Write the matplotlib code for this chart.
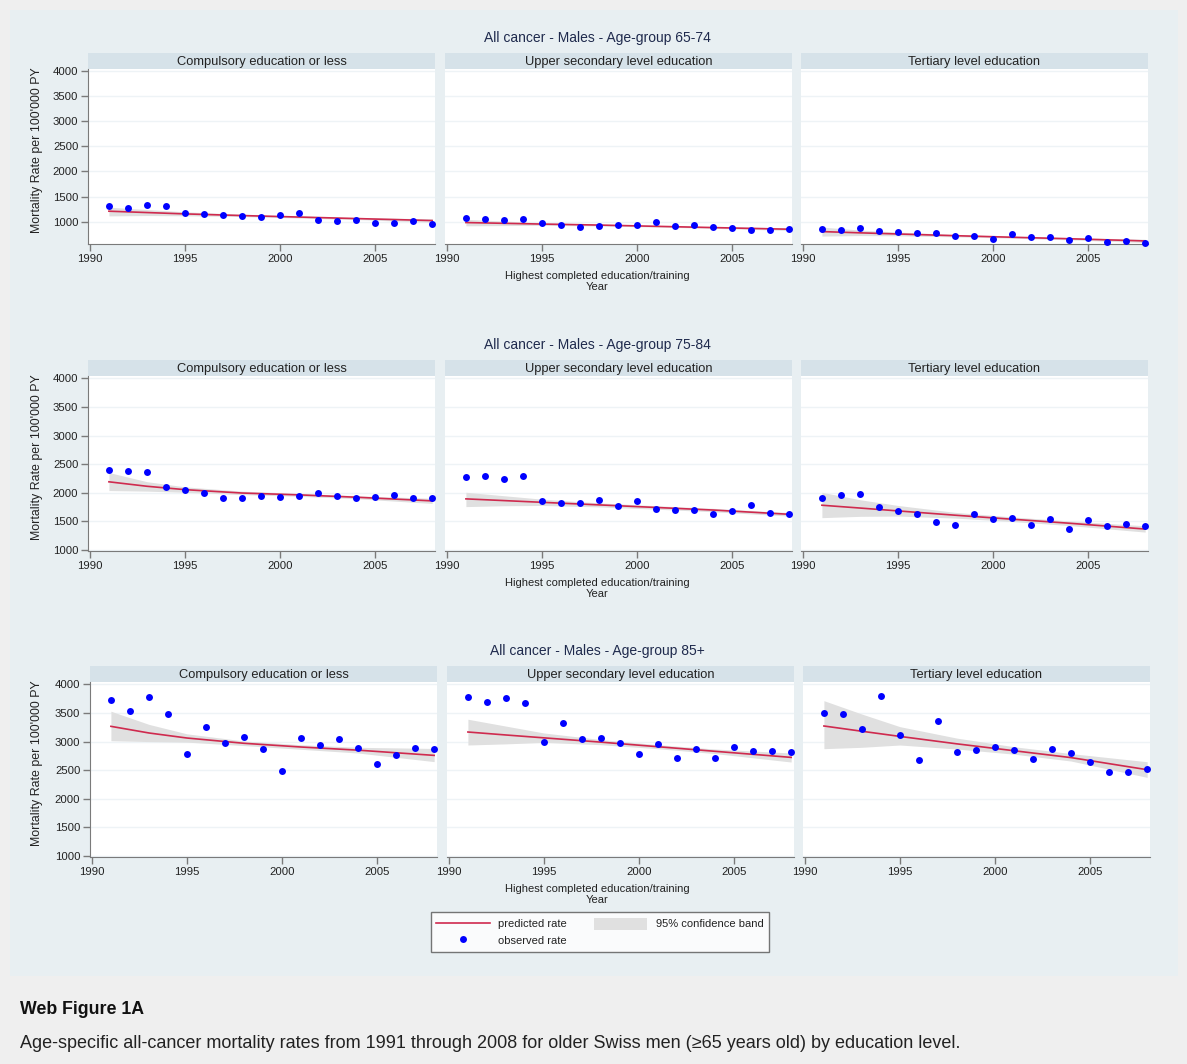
import matplotlib
matplotlib.use("Agg")
import matplotlib.pyplot as plt
from matplotlib.lines import Line2D
from matplotlib.patches import Patch, Rectangle

plt.rcParams['font.family'] = ['Liberation Sans', 'DejaVu Sans']

years = list(range(1991, 2009))
fit_years = [1991, 1993, 1995, 1998, 2001, 2004, 2008]

age_groups = ["65-74", "75-84", "85+"]
education = ["Compulsory education or less",
             "Upper secondary level education",
             "Tertiary level education"]

# observed rates per 100'000 PY, 1991..2008
obs_65_comp = [1313, 1280, 1340, 1313, 1173, 1147, 1127, 1120, 1087, 1127, 1180, 1040, 1020, 1040, 980, 973, 1013, 947]
obs_65_upper = [1067, 1047, 1027, 1047, 980, 940, 893, 920, 933, 927, 1000, 920, 927, 900, 880, 840, 840, 847]
obs_65_tert = [853, 840, 880, 813, 800, 767, 780, 707, 707, 647, 747, 687, 693, 640, 673, 587, 620, 580]

obs_75_comp = [2404, 2386, 2357, 2105, 2053, 2000, 1918, 1906, 1947, 1936, 1953, 2006, 1942, 1912, 1936, 1959, 1906, 1912]
obs_75_upper = [2275, 2292, 2234, 2287, 1854, 1819, 1819, 1871, 1778, 1860, 1725, 1702, 1696, 1632, 1684, 1790, 1643, 1626]
obs_75_tert = [1918, 1959, 1982, 1754, 1684, 1632, 1485, 1444, 1632, 1544, 1556, 1439, 1550, 1374, 1520, 1415, 1450, 1421]

obs_85_comp = [3720, 3540, 3773, 3487, 2788, 3260, 2975, 3074, 2876, 2491, 3056, 2940, 3039, 2893, 2608, 2771, 2893, 2876]
obs_85_upper = [3784, 3685, 3767, 3668, 2998, 3330, 3039, 3062, 2969, 2788, 2951, 2707, 2876, 2718, 2905, 2835, 2835, 2812]
obs_85_tert = [3505, 3481, 3219, 3802, 3109, 2672, 3359, 2817, 2852, 2911, 2858, 2689, 2864, 2794, 2637, 2468, 2468, 2526]

# predicted rate and 95% band at fit_years
pred_65_comp = [1207, 1180, 1153, 1120, 1090, 1060, 1020]
lo_65_comp = [1113, 1120, 1115, 1100, 1070, 1040, 985]
hi_65_comp = [1287, 1240, 1195, 1145, 1110, 1080, 1055]
pred_65_upper = [980, 965, 950, 930, 905, 880, 847]
lo_65_upper = [915, 920, 925, 912, 890, 865, 822]
hi_65_upper = [1045, 1010, 978, 948, 920, 897, 875]
pred_65_tert = [800, 775, 752, 718, 687, 657, 613]
lo_65_tert = [710, 720, 715, 695, 668, 635, 580]
hi_65_tert = [890, 830, 790, 742, 707, 680, 648]

pred_75_comp = [2193, 2115, 2056, 1997, 1965, 1924, 1860]
lo_75_comp = [2040, 2030, 2010, 1970, 1940, 1898, 1815]
hi_75_comp = [2355, 2195, 2105, 2030, 1990, 1950, 1905]
pred_75_upper = [1895, 1865, 1835, 1790, 1745, 1700, 1626]
lo_75_upper = [1760, 1775, 1780, 1755, 1715, 1670, 1595]
hi_75_upper = [2010, 1950, 1890, 1825, 1775, 1730, 1655]
pred_75_tert = [1784, 1735, 1685, 1610, 1540, 1470, 1368]
lo_75_tert = [1567, 1590, 1595, 1560, 1500, 1430, 1315]
hi_75_tert = [2010, 1880, 1780, 1660, 1580, 1510, 1425]

pred_85_comp = [3266, 3150, 3062, 2970, 2905, 2850, 2759]
lo_85_comp = [3015, 3000, 2990, 2930, 2865, 2800, 2650]
hi_85_comp = [3530, 3300, 3135, 3010, 2945, 2900, 2880]
pred_85_upper = [3167, 3115, 3065, 2990, 2910, 2830, 2724]
lo_85_upper = [2940, 2960, 2985, 2945, 2875, 2790, 2643]
hi_85_upper = [3390, 3270, 3150, 3035, 2945, 2870, 2800]
pred_85_tert = [3272, 3180, 3090, 2960, 2840, 2720, 2509]
lo_85_tert = [2876, 2900, 2940, 2870, 2780, 2660, 2375]
hi_85_tert = [3714, 3480, 3260, 3060, 2910, 2790, 2648]

observed = [[obs_65_comp, obs_65_upper, obs_65_tert],
            [obs_75_comp, obs_75_upper, obs_75_tert],
            [obs_85_comp, obs_85_upper, obs_85_tert]]
predicted = [[pred_65_comp, pred_65_upper, pred_65_tert],
             [pred_75_comp, pred_75_upper, pred_75_tert],
             [pred_85_comp, pred_85_upper, pred_85_tert]]
lower = [[lo_65_comp, lo_65_upper, lo_65_tert],
         [lo_75_comp, lo_75_upper, lo_75_tert],
         [lo_85_comp, lo_85_upper, lo_85_tert]]
upper = [[hi_65_comp, hi_65_upper, hi_65_tert],
         [hi_75_comp, hi_75_upper, hi_75_tert],
         [hi_85_comp, hi_85_upper, hi_85_tert]]

W, H = 1187, 1064
region_col = '#e8eff2'
strip_col = '#d6e2e9'
red = '#cf2a4e'
blue = '#0000ff'
band_col = '#e0e0e0'
axis_col = '#7a7a7a'
text_col = '#222222'
title_col = '#1f2a4d'


def px_rect(x0, y0, x1, y1):
    return [x0 / W, 1 - y1 / H, (x1 - x0) / W, (y1 - y0) / H]


fig = plt.figure(figsize=(W / 100, H / 100), dpi=100, facecolor='#efefef')

# graph region background
fig.patches.append(Rectangle((10 / W, 1 - 976 / H), 1168 / W, 966 / H,
                             transform=fig.transFigure, facecolor=region_col,
                             edgecolor='none', zorder=-5))

# (strip top, axes top, axes bottom, title y, x-label y)
rows = [(53, 69, 244, 38, 276),
        (360, 376, 551, 345, 583),
        (666, 682, 857, 651, 889)]
cols = [(88, 435), (445, 792), (801, 1148)]
ylims = [(552, 4046), (985, 4040), (985, 4040)]
shift = [0, 0, 2]

for r in range(3):
    s_top, a_top, a_bot, t_y, xl_y = rows[r]
    for c in range(3):
        x0, x1 = cols[c]
        x0 += shift[r]
        x1 += shift[r]
        sax = fig.add_axes(px_rect(x0, s_top, x1, a_top))
        sax.set_facecolor(strip_col)
        sax.set_xticks([])
        sax.set_yticks([])
        for sp in sax.spines.values():
            sp.set_visible(False)
        sax.text(0.5, 0.45, education[c], ha='center', va='center',
                 fontsize=9.3, color=text_col, transform=sax.transAxes)

        ax = fig.add_axes(px_rect(x0, a_top, x1, a_bot))
        ax.set_facecolor('white')
        ax.fill_between(fit_years, lower[r][c], upper[r][c], color=band_col,
                        linewidth=0, zorder=1)
        ax.plot(fit_years, predicted[r][c], color=red, linewidth=1.2, zorder=2)
        ax.plot(years, observed[r][c], 'o', color=blue, markersize=5,
                markeredgewidth=0, zorder=3, clip_on=False)
        ax.set_xlim(1989.9, 2008.15)
        ax.set_ylim(*ylims[r])
        ax.set_xticks([1990, 1995, 2000, 2005])
        ax.set_yticks([1000, 1500, 2000, 2500, 3000, 3500, 4000])
        ax.grid(axis='y', color='#eef3f6', linewidth=1)
        ax.set_axisbelow(True)
        ax.spines['top'].set_visible(False)
        ax.spines['right'].set_visible(False)
        ax.spines['bottom'].set_color(axis_col)
        ax.spines['left'].set_color(axis_col)
        ax.tick_params(direction='out', length=5, color=axis_col, pad=2,
                       labelsize=8.2, labelcolor=text_col, width=1)
        if c > 0:
            ax.spines['left'].set_visible(False)
            ax.tick_params(axis='y', left=False, labelleft=False)

    fig.text(597 / W, 1 - t_y / H, "All cancer - Males - Age-group " + age_groups[r],
             ha='center', va='center', fontsize=10, color=title_col)
    fig.text(597 / W, 1 - xl_y / H, "Highest completed education/training",
             ha='center', va='center', fontsize=8, color=text_col)
    fig.text(597 / W, 1 - (xl_y + 11) / H, "Year",
             ha='center', va='center', fontsize=8, color=text_col)
    fig.text(37 / W, 1 - ((a_top + a_bot) / 2 - 6) / H, "Mortality Rate per 100'000 PY",
             ha='center', va='center', rotation=90, fontsize=8.9, color=text_col)

handles = [Line2D([], [], color=red, linewidth=1.2),
           Line2D([], [], marker='o', linestyle='none', color=blue,
                  markersize=5, markeredgewidth=0),
           Patch(facecolor=band_col, edgecolor='none')]
labels = ["predicted rate", "observed rate", "95% confidence band"]
leg = fig.legend(handles, labels, ncol=2, loc='center',
                 bbox_to_anchor=(600 / W, 1 - 932 / H), fontsize=8,
                 frameon=True, fancybox=False, handlelength=4.8,
                 handleheight=1.3, columnspacing=2.4, labelspacing=0.4,
                 borderpad=0.5, handletextpad=0.8)
leg.get_frame().set_edgecolor('#555555')
leg.get_frame().set_linewidth(1)
for t in leg.get_texts():
    t.set_color(text_col)

fig.text(20 / W, 1 - 1009 / H, "Web Figure 1A", ha='left', va='center',
         fontsize=12.8, fontweight='bold', color='#111111')
fig.text(20 / W, 1 - 1043 / H,
         "Age-specific all-cancer mortality rates from 1991 through 2008 for older Swiss men (\u226565 years old) by education level.",
         ha='left', va='center', fontsize=12.95, color='#222222')

fig.savefig("out.png", dpi=100, facecolor=fig.get_facecolor())
